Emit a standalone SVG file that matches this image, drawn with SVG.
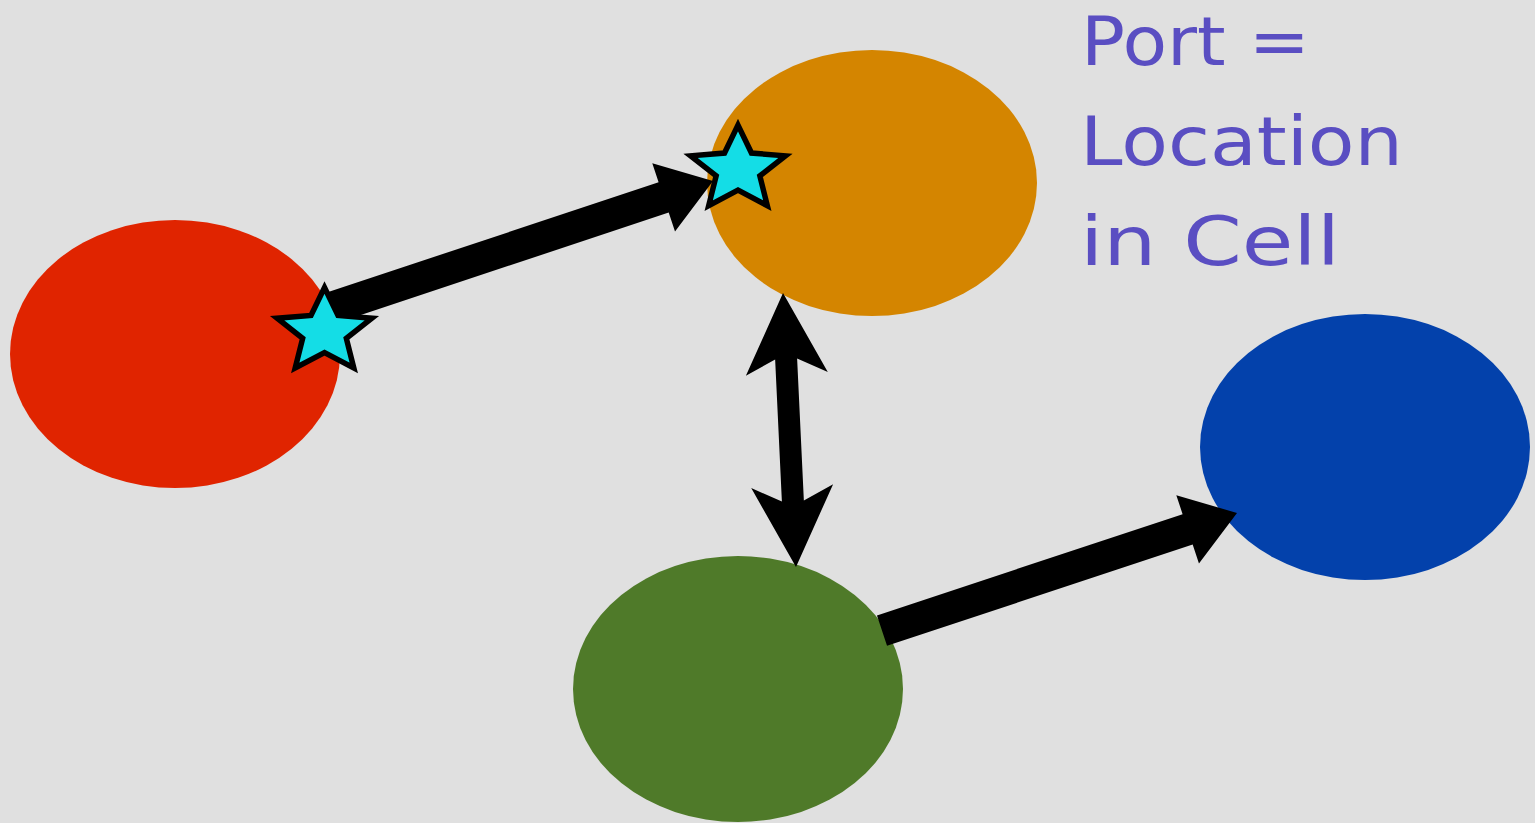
<svg xmlns="http://www.w3.org/2000/svg" width="1535" height="823" viewBox="0 0 1535 823">
  <style>
    .arrow { fill: #000000; }
    .star { fill: #14dde6; stroke: #000000; stroke-width: 5.5; stroke-linejoin: miter; stroke-miterlimit: 10; }
    .label { font-family: "DejaVu Sans", "Liberation Sans", sans-serif; font-size: 68px; fill: #5a4ec2; }
  </style>
  <defs>
    <path id="starShape" d="M0,-44.5 L13.5,-16.58 L47.4,-13.75 L21.84,6.33 L29.3,36 L0,20.5 L-29.3,36 L-21.84,6.33 L-47.4,-13.75 L-13.5,-16.58 Z"/>
  </defs>
  <rect x="0" y="0" width="1535" height="823" fill="#e0e0e0"/>

  <g id="node-red">
    <ellipse cx="175" cy="354" rx="165" ry="134" fill="#e02400"/>
  </g>
  <g id="node-orange">
    <ellipse cx="872" cy="183" rx="165" ry="133" fill="#d48500"/>
  </g>
  <g id="node-blue">
    <ellipse cx="1365" cy="447" rx="165" ry="133" fill="#0341ab"/>
  </g>
  <g id="node-green">
    <ellipse cx="738" cy="689" rx="165" ry="133" fill="#4f7a29"/>
  </g>

  <g id="connectors">
    <polygon class="arrow" points="330.05,325.18 668.7,212.59 675.01,231.57 713,181 652.29,163.25 658.6,182.23 319.95,294.82"/>
    <polygon class="arrow" points="783,293 827.79,371.97 797.12,358.41 803.86,500.55 833.11,484.15 796,567 751.21,488.03 781.88,501.59 775.14,359.45 745.89,375.85"/>
    <polygon class="arrow" points="887.03,645.79 1192.67,544.54 1198.96,563.52 1237,513 1176.32,495.18 1182.61,514.16 876.97,615.41"/>
  </g>

  <g id="port-red">
    <use href="#starShape" class="star" transform="translate(324.5,332)"/>
  </g>
  <g id="port-orange">
    <use href="#starShape" class="star" transform="translate(738,169.6)"/>
  </g>

  <g id="label">
    <text class="label" x="1081" y="65" textLength="229" lengthAdjust="spacingAndGlyphs">Port =</text>
    <text class="label" x="1080" y="165" textLength="323" lengthAdjust="spacingAndGlyphs">Location</text>
    <text class="label" x="1080" y="265" textLength="260" lengthAdjust="spacingAndGlyphs">in Cell</text>
  </g>
</svg>
